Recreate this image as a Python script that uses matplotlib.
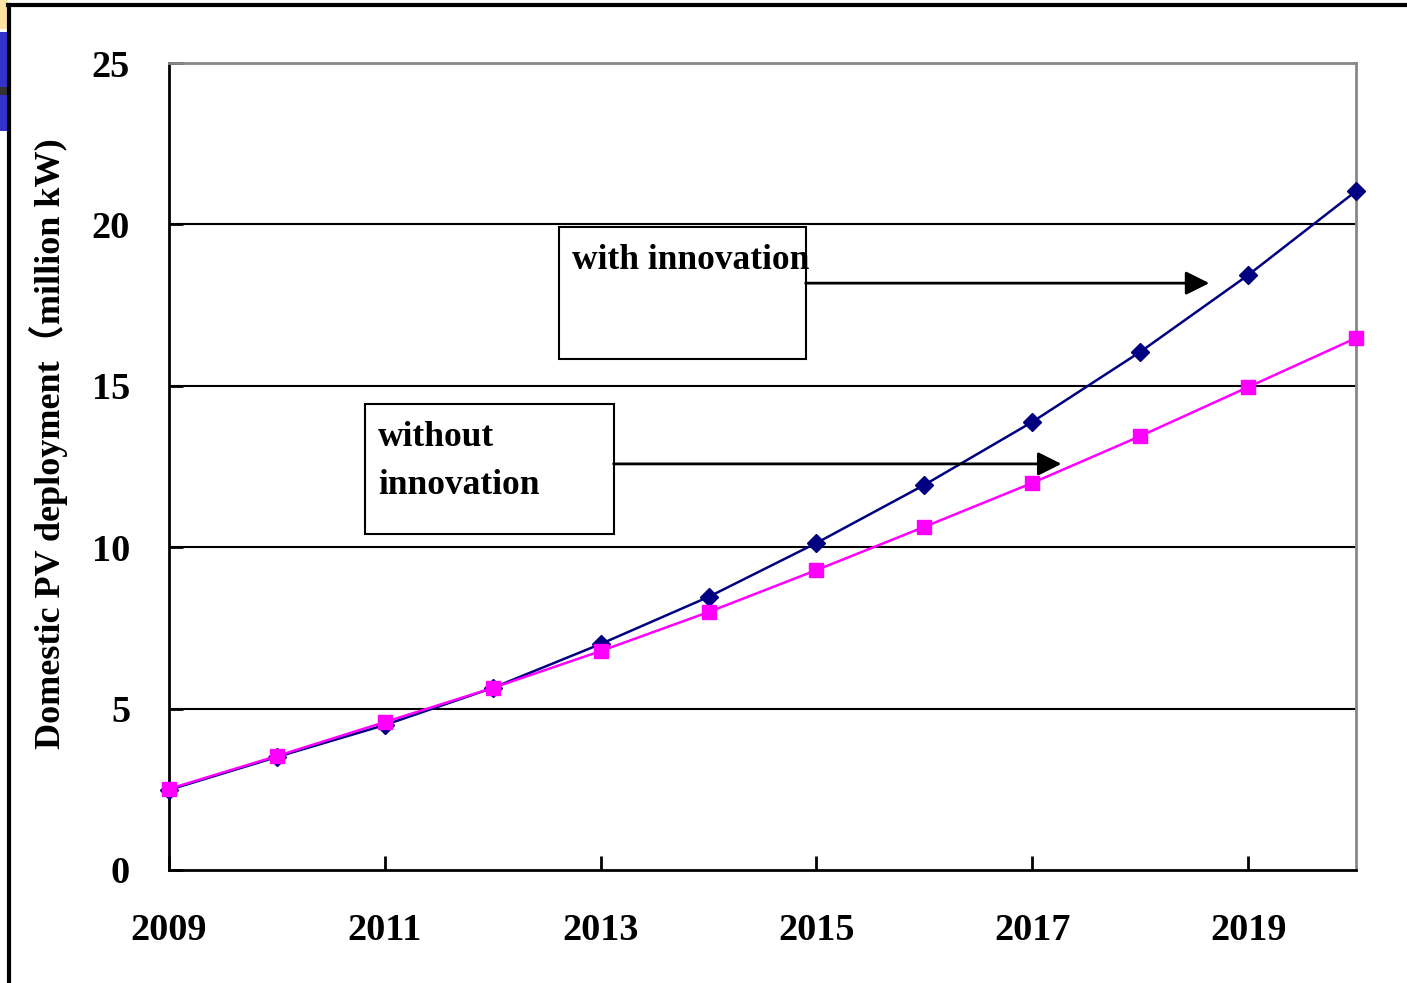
import matplotlib.pyplot as plt
from matplotlib.patches import Rectangle

YEARS = list(range(2009, 2021))
WITH_INNOVATION = [2.48, 3.50, 4.49, 5.64, 7.00, 8.46, 10.13, 11.93, 13.88, 16.05, 18.43, 21.03]
WITHOUT_INNOVATION = [2.51, 3.53, 4.58, 5.64, 6.78, 7.99, 9.29, 10.63, 11.99, 13.44, 14.96, 16.48]
X_TICKS = [2009, 2011, 2013, 2015, 2017, 2019]
Y_TICKS = [0, 5, 10, 15, 20, 25]

SERIF = ["Liberation Serif", "Noto Sans CJK SC"]


def draw_callout(ax, lines, box, text_xy, arrow_start, arrow_end):
    x0, y0, x1, y1 = box
    ax.add_patch(Rectangle((x0, y0), x1 - x0, y1 - y0, fill=False,
                           edgecolor="black", linewidth=1.5, clip_on=False, zorder=4))
    ax.text(text_xy[0], text_xy[1], lines, family=SERIF, fontweight="bold",
            fontsize=25.5, va="top", ha="left", linespacing=1.6, zorder=5)
    ax.annotate("", xy=arrow_end, xytext=arrow_start,
                arrowprops=dict(arrowstyle="-|>", color="black", lw=2,
                                mutation_scale=36, shrinkA=0, shrinkB=0),
                zorder=5)


def main() -> None:
    fig = plt.figure(figsize=(14.07, 9.83), dpi=100)

    # slide frame and corner decoration
    fig.add_artist(plt.Line2D([0.006, 1.0], [0.9945, 0.9945], transform=fig.transFigure,
                              color="black", lw=3))
    fig.add_artist(plt.Line2D([0.0065, 0.0065], [0.0, 0.9945], transform=fig.transFigure,
                              color="black", lw=3))
    fig.add_artist(Rectangle((0, 0.97), 0.0055, 0.03, transform=fig.transFigure,
                             color="#fde3a0", lw=0))
    fig.add_artist(Rectangle((0, 0.867), 0.0055, 0.1, transform=fig.transFigure,
                             color="#3333cc", lw=0))
    fig.add_artist(Rectangle((0, 0.903), 0.0055, 0.008, transform=fig.transFigure,
                             color="#333333", lw=0))

    ax = fig.add_axes([0.1201, 0.1150, 0.8437, 0.8209])

    ax.plot(YEARS, WITH_INNOVATION, color="#000080", lw=1.8, marker="D",
            markersize=9.5, zorder=3, clip_on=False)
    ax.plot(YEARS, WITHOUT_INNOVATION, color="#ff00ff", lw=1.8, marker="s",
            markersize=10.5, zorder=3, clip_on=False)

    ax.set_xlim(2009, 2020)
    ax.set_ylim(0, 25)
    ax.set_xticks(X_TICKS)
    ax.set_yticks(Y_TICKS)
    for y in Y_TICKS[1:-1]:
        ax.axhline(y, color="black", lw=1.5, zorder=1)

    ax.tick_params(direction="in", length=10, width=2, color="black")
    ax.tick_params(axis="x", pad=31)
    ax.tick_params(axis="y", pad=28)
    for label in ax.get_xticklabels() + ax.get_yticklabels():
        label.set_family(SERIF)
        label.set_fontweight("bold")
        label.set_fontsize(27.5)

    ax.spines["left"].set_linewidth(2)
    ax.spines["bottom"].set_linewidth(2)
    for side in ("top", "right"):
        ax.spines[side].set_color("#888888")
        ax.spines[side].set_linewidth(2)

    ax.set_ylabel("Domestic PV deployment\uff08million kW)", family=SERIF,
                  fontweight="bold", fontsize=26)
    ax.yaxis.set_label_coords(-0.085, 0.528)

    draw_callout(ax, "with innovation", (2012.61, 15.83, 2014.90, 19.92),
                 (2012.73, 19.4), (2014.90, 18.18), (2018.64, 18.18))
    draw_callout(ax, "without\ninnovation", (2010.82, 10.41, 2013.12, 14.44),
                 (2010.94, 13.9), (2013.12, 12.58), (2017.27, 12.58))

    fig.savefig("out.png", dpi=100)


if __name__ == "__main__":
    main()
